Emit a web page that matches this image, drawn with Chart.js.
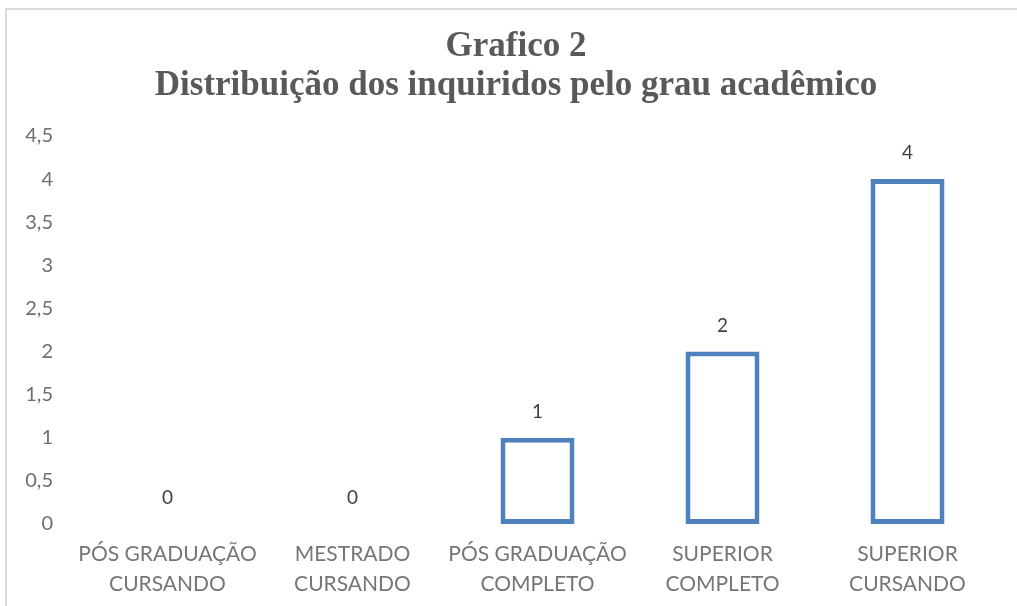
<!DOCTYPE html>
<html>
<head>
<meta charset="utf-8">
<script src="https://cdn.jsdelivr.net/npm/chart.js@4"></script>
<style>
  html, body { margin: 0; padding: 0; background: #fff; }
  #wrap { width: 1017px; height: 606px; position: relative; }
</style>
</head>
<body>
<div id="wrap"><canvas id="grafico2" width="1017" height="606"></canvas></div>
<script>
// dados do grafico
const categorias = [
    ['PÓS GRADUAÇÃO', 'CURSANDO'],
    ['MESTRADO', 'CURSANDO'],
    ['PÓS GRADUAÇÃO', 'COMPLETO'],
    ['SUPERIOR', 'COMPLETO'],
    ['SUPERIOR', 'CURSANDO']
];
const inquiridos = [0, 0, 1, 2, 4];
const tituloLinhas = ['Grafico 2', 'Distribuição dos inquiridos pelo grau acadêmico'];
const eixoY = { min: 0, max: 4.5, passo: 0.5 };

// moldura cinza (canto superior esquerdo), fundo branco e titulo
const moldura = {
    id: 'moldura',
    beforeDraw(chart) {
        const c = chart.ctx;
        c.save();
        c.fillStyle = '#fff';
        c.fillRect(0, 0, chart.width, chart.height);
        c.strokeStyle = '#d9d9d9';
        c.lineWidth = 2;
        c.beginPath();
        c.moveTo(6, chart.height);
        c.lineTo(6, 9);
        c.lineTo(chart.width, 9);
        c.stroke();
        // titulo (desenhado aqui para ficar centrado como no original)
        c.font = 'bold 35px "Liberation Serif"';
        c.fillStyle = '#595959';
        c.textAlign = 'center';
        c.textBaseline = 'middle';
        tituloLinhas.forEach((t, i) => c.fillText(t, 516, 47 + i * 39));
        c.restore();
    }
};

// rotulos de valor em cima das barras
const rotulos = {
    id: 'rotulos',
    afterDatasetsDraw(chart) {
        const c = chart.ctx;
        const meta = chart.getDatasetMeta(0);
        c.save();
        c.font = '19px Lato';
        c.fillStyle = '#404040';
        c.textAlign = 'center';
        c.textBaseline = 'middle';
        meta.data.forEach((bar, i) => {
            c.fillText(String(inquiridos[i]), bar.x, bar.y - 26);
        });
        c.restore();
    }
};

const ctxBarra = document.getElementById('grafico2').getContext('2d');
const graficoBarra = new Chart(ctxBarra, {
    type: 'bar',
    data: {
        labels: categorias,
        datasets: [{
            label: 'Inquiridos',
            data: inquiridos,
            backgroundColor: '#ffffff',
            borderColor: '#4F81BD',
            borderWidth: 5,
            borderSkipped: false,
            barPercentage: 0.4,
            categoryPercentage: 1
        }]
    },
    options: {
        responsive: false,
        animation: false,
        devicePixelRatio: 1,
        layout: {
            padding: { top: 136, right: 17, bottom: 10, left: 0 }
        },
        plugins: {
            legend: { display: false },
            tooltip: { enabled: false },
            title: { display: false }
        },
        scales: {
            x: {
                grid: { display: false, drawTicks: false },
                border: { display: false },
                ticks: {
                    color: '#767676',
                    font: { family: 'Lato', size: 21, lineHeight: 1.4 },
                    padding: 16,
                    maxRotation: 0,
                    autoSkip: false
                },
                afterFit(s) { s.height = 72; }
            },
            y: {
                min: eixoY.min,
                max: eixoY.max,
                grid: { display: false, drawTicks: false },
                border: { display: false },
                ticks: {
                    stepSize: eixoY.passo,
                    color: '#6e6e6e',
                    font: { family: 'Lato', size: 20 },
                    padding: 22,
                    callback: v => String(v).replace('.', ',')
                },
                afterFit(s) { s.width = 75; }
            }
        }
    },
    plugins: [moldura, rotulos]
});
</script>
</body>
</html>
